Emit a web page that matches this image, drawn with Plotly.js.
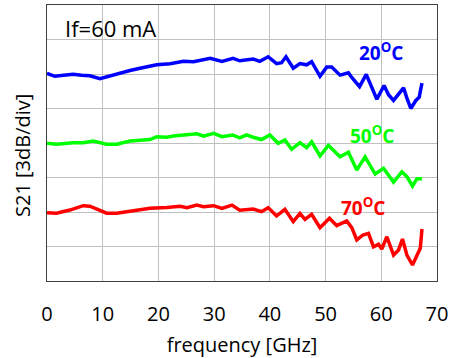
<!DOCTYPE html>
<html>
<head>
<meta charset="utf-8">
<script src="https://cdn.plot.ly/plotly-3.0.1.min.js"></script>
<style>html,body{margin:0;padding:0;background:#fff;}#chart{width:454px;height:358px;}</style>
</head>
<body>
<div id="chart"></div>
<script>
// 20 °C curve
const freq20 = [0,1.4,3.0,4.7,6.2,7.7,9.5,11.3,13.1,14.9,16.7,18.2,19.7,22.1,24.5,26.3,27.8,29.3,31.4,33.4,34.6,37.0,38.2,39.7,41.2,42.1,42.9,44.2,45.4,46.6,47.5,49.0,50.2,51.1,52.6,54.1,54.7,56.1,57.3,58.3,59.2,60.5,61.3,62.2,63.1,64.0,64.6,65.3,66.2,66.8,67.3];
const s21_20 = [18.06,17.8,17.9,17.97,17.9,17.85,17.6,17.85,18.1,18.3,18.5,18.65,18.8,18.9,19.1,19.07,19.2,19.36,19.1,19.36,19.15,19.3,19.1,19.5,18.9,18.98,19.5,18.5,18.9,18.8,19.07,17.8,18.6,18.6,17.9,18.1,17.7,16.9,17.97,16.9,15.8,17.0,16.2,15.7,16.2,16.8,15.9,15.0,15.7,15.97,17.2];
// 50 °C curve
const freq50 = [0,1.7,3.2,4.7,6.5,8.3,10.7,12.5,14.9,16.7,18.5,19.7,21.5,22.7,25.1,26.9,28.1,29.9,31.4,33.3,34.6,35.8,37.0,38.5,40.0,41.5,42.7,43.9,45.4,46.6,47.5,49.0,50.5,52.6,54.1,55.6,57.1,58.9,60.4,61.0,62.2,63.7,64.6,65.6,66.4,67.3];
const s21_50 = [11.97,11.9,11.95,12.03,12.03,12.17,11.9,11.9,12.17,12.2,12.3,12.55,12.5,12.6,12.7,12.8,12.6,12.84,12.55,12.7,12.45,12.7,12.5,12.3,12.7,11.97,12.26,11.45,12.03,11.6,12.1,10.87,11.8,10.8,11.2,9.65,10.8,9.3,9.8,9.36,8.6,9.5,9.07,8.26,8.9,8.9];
// 70 °C curve
const freq70 = [0,1.7,4.1,6.5,7.7,8.9,10.7,12.5,15.5,18.5,21.5,23.9,25.1,26.9,28.1,29.9,31.4,33.2,34.6,37.0,38.5,39.7,41.2,42.7,44.2,45.4,46.3,47.5,49.0,50.7,52.0,53.8,54.7,55.6,56.7,57.7,58.6,59.5,60.1,61.0,62.2,63.1,63.8,64.6,65.6,66.4,67.0,67.3];
const s21_70 = [5.94,5.9,6.17,6.55,6.5,6.23,5.9,5.9,6.09,6.32,6.4,6.5,6.38,6.6,6.46,6.55,6.32,6.6,6.15,6.26,6.03,6.38,5.65,6.23,5.16,5.88,5.36,5.8,4.64,5.45,4.81,5.22,4.64,3.57,4.0,4.14,2.98,3.19,2.78,3.85,2.26,2.7,3.65,2.26,1.39,2.26,2.84,4.52];

const seriesLabels = ['20<sup>O</sup>C','50<sup>O</sup>C','70<sup>O</sup>C'];
const xTickVals = [0,10,20,30,40,50,60,70];
const xTitle = 'frequency [GHz]';
const yTitle = 'S21 [3dB/div]';
const condition = 'If=60 mA';

const FONT = '"Open Sans", "Liberation Sans", sans-serif';
const traces = [
  {x: freq20, y: s21_20, mode: 'lines', line: {color: '#0000ff', width: 3.5}},
  {x: freq50, y: s21_50, mode: 'lines', line: {color: '#00ff00', width: 3.5}},
  {x: freq70, y: s21_70, mode: 'lines', line: {color: '#ff0000', width: 3.5}}
];

const layout = {
  width: 454, height: 358,
  margin: {l: 47, r: 17, t: 5, b: 77},
  paper_bgcolor: '#fff', plot_bgcolor: '#fff',
  showlegend: false,
  font: {family: FONT, color: '#000', size: 20},
  xaxis: {
    range: [0, 70], tickvals: xTickVals, showgrid: true, gridcolor: '#c0c0c0', gridwidth: 1,
    showline: true, mirror: true, linecolor: '#404040', linewidth: 1, zeroline: false,
    ticks: '', ticklabelstandoff: 15, tickfont: {family: FONT, size: 20, color: '#000'},
    title: {text: xTitle, font: {family: FONT, size: 20, color: '#000'}, standoff: 12}
  },
  yaxis: {
    range: [0, 24], dtick: 3, tick0: 0, showgrid: true, gridcolor: '#c0c0c0', gridwidth: 1,
    showline: true, mirror: true, linecolor: '#404040', linewidth: 1, zeroline: false,
    showticklabels: false, ticks: ''
  },
  annotations: [
    {text: condition, xref: 'x', yref: 'y', x: 2.9, y: 22.0, xanchor: 'left', yanchor: 'middle', showarrow: false, font: {family: FONT, size: 22, color: '#000'}},
    {text: '<b>' + seriesLabels[0] + '</b>', xref: 'x', yref: 'y', x: 59.95, y: 19.9, xanchor: 'center', yanchor: 'middle', showarrow: false, font: {family: FONT, size: 19, color: '#0000ff'}},
    {text: '<b>' + seriesLabels[1] + '</b>', xref: 'x', yref: 'y', x: 58.25, y: 12.7, xanchor: 'center', yanchor: 'middle', showarrow: false, font: {family: FONT, size: 19, color: '#00ff00'}},
    {text: '<b>' + seriesLabels[2] + '</b>', xref: 'x', yref: 'y', x: 56.7, y: 6.43, xanchor: 'center', yanchor: 'middle', showarrow: false, font: {family: FONT, size: 19, color: '#ff0000'}},
    {text: yTitle, xref: 'paper', yref: 'paper', x: -0.0615, y: 0.453, xanchor: 'center', yanchor: 'middle', textangle: -90, showarrow: false, font: {family: FONT, size: 20, color: '#000'}}
  ]
};

Plotly.newPlot('chart', traces, layout, {displayModeBar: false, staticPlot: true});
</script>
</body>
</html>
